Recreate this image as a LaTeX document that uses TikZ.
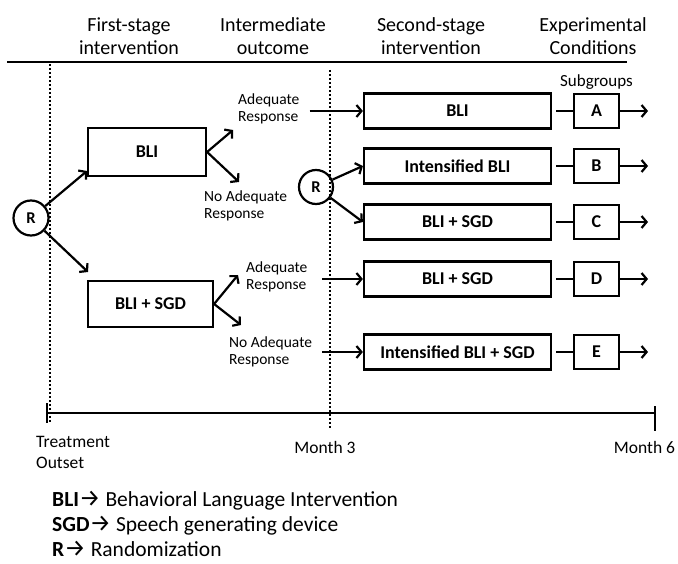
\documentclass[tikz,border=0pt]{standalone}
\usepackage{fontspec}
\setmainfont{Carlito}
\newfontfamily\arrowfont{Fira Sans}
\usetikzlibrary{positioning,arrows.meta}

\newcommand{\keyarrow}{{\arrowfont\fontsize{24}{24}\selectfont →}}

\begin{document}
\begin{tikzpicture}[x=1pt,y=-1pt,
  box/.style={draw,line width=2.2pt,inner sep=0pt,
    font=\bfseries\fontsize{18}{20}\selectfont},
  stagebox/.style={box,minimum width=187pt,minimum height=35pt},
  subbox/.style={box,minimum width=45pt,minimum height=34pt},
  rnode/.style={circle,draw,line width=2.2pt,minimum size=35pt,inner sep=0pt,
    font=\bfseries\fontsize{16.5}{18}\selectfont},
  resp/.style={align=left,inner sep=0pt,font=\fontsize{15.5}{17}\selectfont},
  head/.style={align=center,inner sep=0pt,font=\fontsize{20}{23}\selectfont},
  tlabel/.style={align=left,inner sep=0pt,font=\fontsize{17.5}{21}\selectfont},
  legend/.style={anchor=west,inner sep=0pt,font=\fontsize{21.5}{24}\selectfont},
  arr/.style={-{Straight Barb[length=5pt,width=12pt]},line width=2.2pt},
  plain/.style={line width=2.2pt},
  dots/.style={line width=2pt,dash pattern=on 2pt off 2pt}]
  \useasboundingbox (0,0) rectangle (678,564);

  % column headings
  \node[head] (h1) at (129,36) {First-stage\\intervention};
  \node[head] (h2) at (273,36) {Intermediate\\outcome};
  \node[head] (h3) at (431,36) {Second-stage\\intervention};
  \node[head] (h4) at (593,36) {Experimental\\Conditions};
  \draw[line width=2pt] (7,62) -- (627,62);

  % time markers
  \draw[dots] (50,64) -- (50,423);
  \draw[dots] (330,70) -- (330,428);

  % first stage
  \node[rnode] (r1) at (31,218) {R};
  \node[box,minimum width=118pt,minimum height=48pt] (bli1) at (147,152) {BLI};
  \node[box,minimum width=125pt,minimum height=46pt] (sgd1) at (150.5,304) {BLI + SGD};
  \coordinate (c1) at (87,171);
  \coordinate (c2) at (88,272);
  \draw[arr] (r1) -- (c1);
  \draw[arr] (r1) -- (c2);

  % intermediate outcome
  \node[resp,anchor=west] (ad1) at (238,109) {Adequate\\Response};
  \node[resp,anchor=west] (no1) at (204,206) {No Adequate\\Response};
  \node[resp,anchor=west] (ad2) at (246,277) {Adequate\\Response};
  \node[resp,anchor=west] (no2) at (229,352) {No Adequate\\Response};
  \coordinate (c3) at (233,130);
  \coordinate (c4) at (239,182);
  \coordinate (c5) at (238,275);
  \coordinate (c6) at (241,325);
  \draw[arr] (bli1.east) -- (c3);
  \draw[arr] (bli1.east) -- (c4);
  \draw[arr] (sgd1.east) -- (c5);
  \draw[arr] (sgd1.east) -- (c6);

  % second stage and subgroups
  \foreach \n/\l/\y/\t in {a/A/111/BLI, b/B/166/Intensified BLI,
      c/C/222/BLI + SGD, d/D/279/BLI + SGD, e/E/352/Intensified BLI + SGD}{
    \node[stagebox] (s2\n) at (457.5,\y) {\t};
    \node[subbox] (g\n) at (596.5,\y) {\l};
    \coordinate (out\n) at (648,\y);
    \draw[plain,shorten <=4pt] (s2\n) -- (g\n);
    \draw[arr] (g\n) -- (out\n);
  }
  \node[above=0pt of ga,font=\fontsize{17}{20}\selectfont] (sub) {Subgroups};

  \node[rnode,minimum size=34pt] (r2) at (316,187) {R};
  \draw[arr] (r2) -- (s2b.west);
  \draw[arr] (r2) -- (s2c.west);
  \draw[arr] ([xshift=10pt]s2a.west -| ad1.east) -- (s2a.west);
  \draw[arr] (322,279) coordinate (c7) -- (s2d.west);
  \draw[arr] (322,352) coordinate (c8) -- (s2e.west);

  % timeline
  \coordinate (t0) at (47,413);
  \coordinate (t6) at (655,413);
  \draw[line width=2pt] (t0) -- (t6);
  \draw[line width=2pt] (47,403) -- (47,423);
  \draw[line width=2pt] (655,406) -- (655,431);
  \node[tlabel,anchor=west] (lt0) at (36,452) {Treatment\\Outset};
  \node[tlabel] (lt3) at (325,447) {Month 3};
  \node[tlabel] (lt6) at (644.5,447) {Month 6};

  % key
  \node[legend] (k1) at (52,501) {\textbf{BLI}\keyarrow{} Behavioral Language Intervention};
  \node[legend] (k2) at (52,526) {\textbf{SGD}\keyarrow{} Speech generating device};
  \node[legend] (k3) at (52,549) {\textbf{R}\keyarrow{} Randomization};
\end{tikzpicture}
\end{document}
